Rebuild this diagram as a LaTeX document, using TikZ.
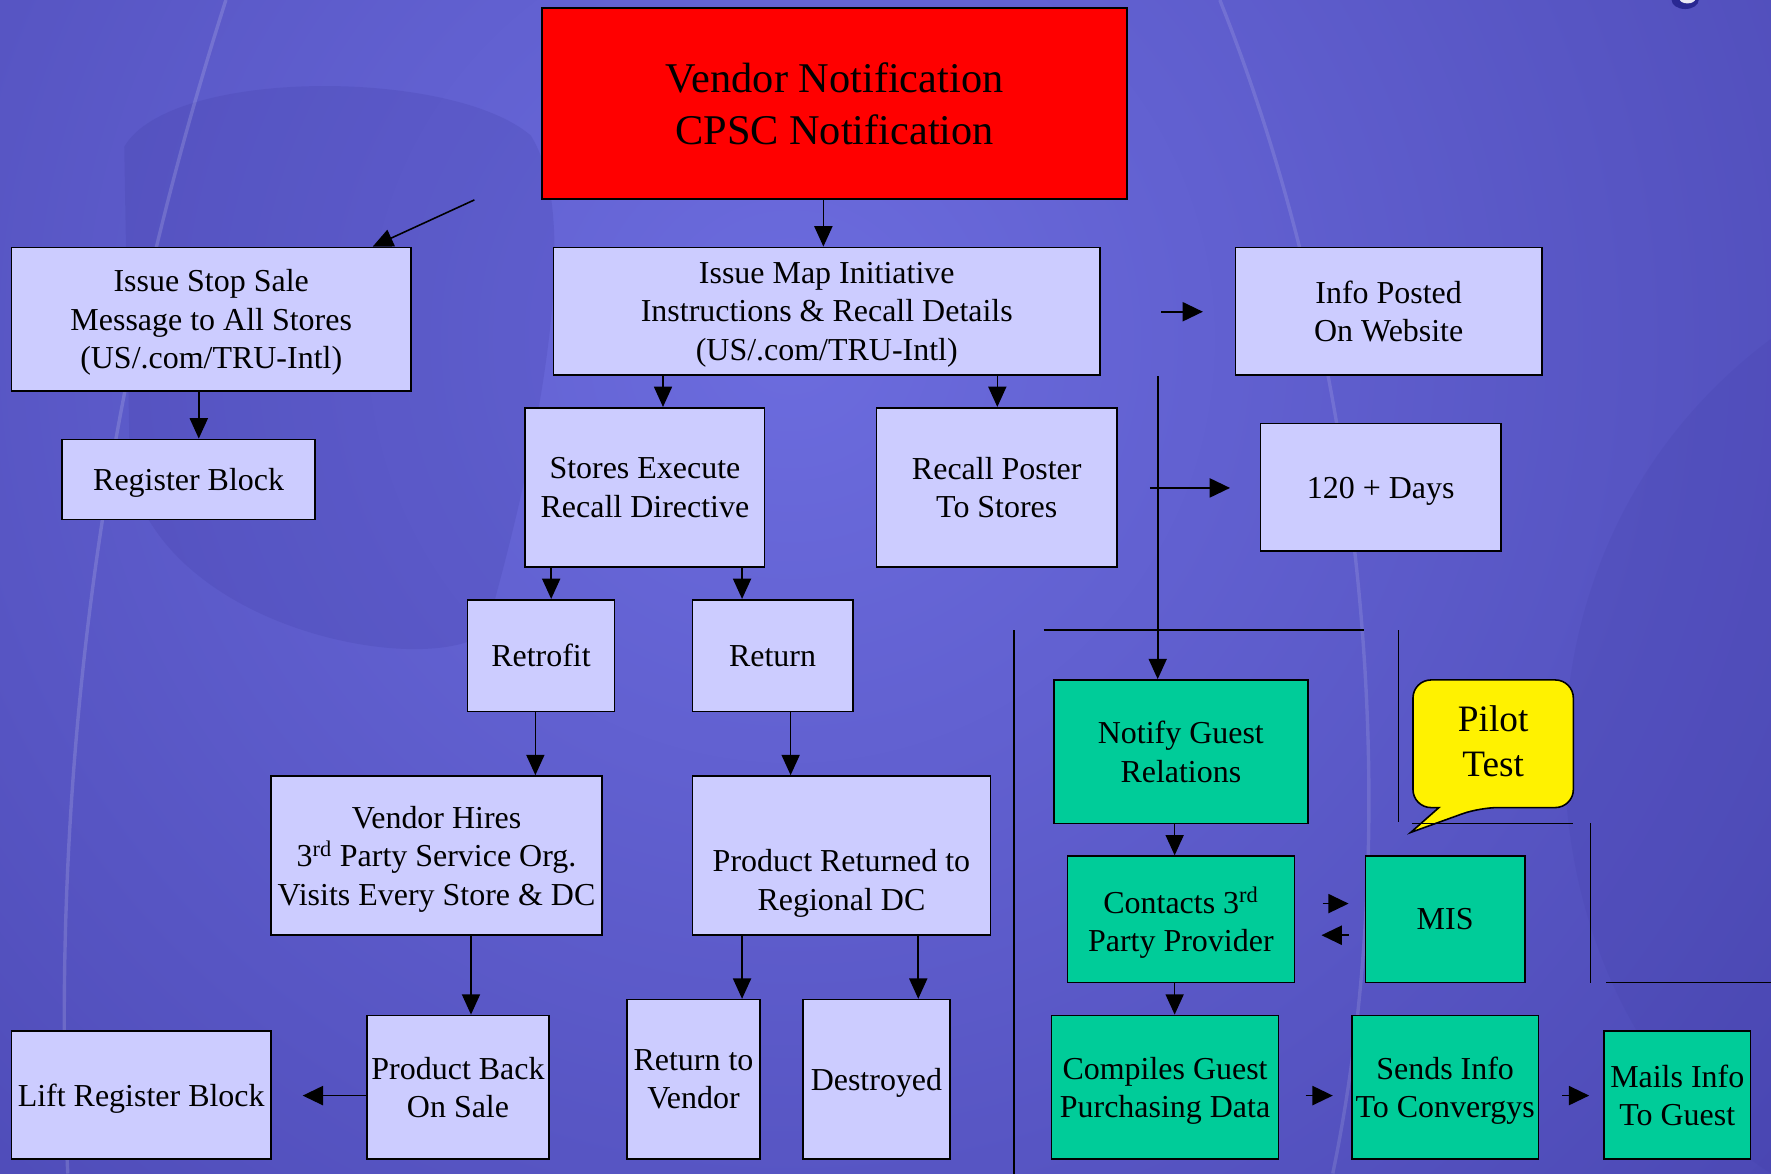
\documentclass[tikz,border=0pt]{standalone}
\usepackage{fontspec}
\setmainfont{Liberation Serif}
\usetikzlibrary{arrows.meta}
\definecolor{lav}{RGB}{204,204,255}
\definecolor{grn}{RGB}{0,204,153}
\definecolor{bgl}{RGB}{108,108,222}
\definecolor{bgd}{RGB}{66,62,168}
\definecolor{bgdark}{RGB}{60,56,160}
\newcommand\boxfont{\fontsize{28.3}{34}\selectfont}
\newcommand\bigboxfont{\fontsize{37.5}{46}\selectfont}
\newcommand\pilotfont{\fontsize{33}{40}\selectfont}
\begin{document}
\begin{tikzpicture}[x=1pt,y=-1pt,line width=1.4pt,
  box/.style={draw=black,fill=lav,align=center,inner sep=0pt,font=\boxfont,text depth=0pt},
  gbox/.style={box,fill=grn},
  bx/.style 2 args={minimum width=#1pt,minimum height=#2pt},
  arr/.style={-{Triangle[length=18pt,width=16pt]}},
  sarr/.style={-{Triangle[length=18pt,width=17pt]}},
  plain/.style={line width=1.4pt}]
\useasboundingbox (0,0) rectangle (1568,1039);
% background
\begin{scope}
\clip (0,0) rectangle (1568,1039);
\shade[inner color=bgl,outer color=bgd] (700,300) circle (1500);
\fill[bgdark,opacity=0.18] (110,130) .. controls (150,60) and (400,60) .. (470,120) .. controls (520,200) and (470,420) .. (430,560) .. controls (380,600) and (150,560) .. (115,420) -- cycle;
\fill[bgdark,opacity=0.12] (1568,300) .. controls (1300,500) and (1350,900) .. (1568,1039) -- cycle;
\draw[white,opacity=0.15,line width=3pt] (200,0) .. controls (120,250) and (40,600) .. (60,1039);
\draw[white,opacity=0.12,line width=3pt] (1080,0) .. controls (1200,300) and (1250,700) .. (1180,1039);
\fill[black!60!blue,opacity=0.5] (1492,0) ellipse (12 and 8);
\fill[white,opacity=0.9] (1494,-1) ellipse (7 and 4);
\end{scope}
% nodes
\node[draw=black,fill=red,align=center,inner sep=0pt,bx={518}{169},font=\bigboxfont] (red) at (739,91.5) {Vendor Notification\\CPSC Notification};
\node[box,bx={354}{127}] (stop) at (187,282.5) {Issue Stop Sale\\Message to All Stores\\(US/.com/TRU-Intl)};
\node[box,bx={224}{71}] (reg) at (167,424.5) {Register Block};
\node[box,bx={484}{113}] (imap) at (732,275.5) {Issue Map Initiative\\Instructions \& Recall Details\\(US/.com/TRU-Intl)};
\node[box,bx={271}{113}] (info) at (1229.5,275.5) {Info Posted\\On Website};
\node[box,bx={213}{113}] (days) at (1222.5,431.5) {120 + Days};
\node[box,bx={212}{141}] (se) at (571,431.5) {Stores Execute\\Recall Directive};
\node[box,bx={213}{141}] (rp) at (882.5,431.5) {Recall Poster\\To Stores};
\node[box,bx={130}{99}] (retro) at (479,580.5) {Retrofit};
\node[box,bx={142}{99}] (ret) at (684,580.5) {Return};
\node[box,bx={293}{141}] (vh) at (386.5,757.5) {Vendor Hires\\3\textsuperscript{rd} Party Service Org.\\Visits Every Store \& DC};
\node[box,bx={264}{141}] (prd) at (745,757.5) {};
\node[align=center,font=\boxfont,inner sep=0pt] (prdt) at (745,782) {Product Returned to\\Regional DC};
\node[box,bx={230}{113}] (lift) at (125,969.5) {Lift Register Block};
\node[box,bx={161}{127}] (pbs) at (405.5,962.5) {Product Back\\On Sale};
\node[box,bx={118}{141}] (rtv) at (614,955.5) {Return to\\Vendor};
\node[box,bx={130}{141}] (des) at (776,955.5) {Destroyed};
\node[gbox,bx={225}{127}] (ng) at (1045.5,665.5) {Notify Guest\\Relations};
\node[gbox,bx={201}{112}] (c3) at (1045.5,814) {Contacts 3\textsuperscript{rd}\\Party Provider};
\node[gbox,bx={141}{112}] (mis) at (1279.5,814) {MIS};
\node[gbox,bx={201}{127}] (cg) at (1031.5,962.5) {Compiles Guest\\Purchasing Data};
\node[gbox,bx={165}{127}] (si) at (1279.5,962.5) {Sends Info\\To Convergys};
\node[gbox,bx={130}{113}] (mi) at (1485,969.5) {Mails Info\\To Guest};
% pilot test callout
\draw[fill=yellow,rounded corners=16pt] (1251,602) -- (1393,602) -- (1393,715) -- (1310,715) [sharp corners] -- (1249,737) -- (1274,715) [rounded corners=16pt] -- (1251,715) -- cycle;
\node[align=center,font=\pilotfont,inner sep=0pt] (pilot) at (1322,656) {Pilot\\Test};
% helper coordinates
\coordinate (x729) at (729,0);
\coordinate (x330) at (330,0);
\coordinate (x176) at (176,0);
\coordinate (x587) at (587,0);
\coordinate (x883) at (883,0);
\coordinate (x488) at (488,0);
\coordinate (x657) at (657,0);
\coordinate (x474) at (474,0);
\coordinate (x700) at (700,0);
\coordinate (x417) at (417,0);
\coordinate (x813) at (813,0);
\coordinate (x1040) at (1040,0);
\coordinate (d1) at (420,177);
\coordinate (w1) at (1028,276);
\coordinate (w2) at (1065,276);
\coordinate (v1) at (1025,333);
\coordinate (h1) at (1018,432);
\coordinate (h2) at (1089,432);
\coordinate (l1) at (268,970);
\coordinate (m1) at (1171,800);
\coordinate (m2) at (1194,800);
\coordinate (m3) at (1194,828);
\coordinate (m4) at (1170,828);
\coordinate (s1) at (1156,970);
\coordinate (s2) at (1180,970);
\coordinate (s3) at (1383,970);
\coordinate (s4) at (1407,970);
% connectors
\draw[arr] (red.south -| x729) -- (imap.north -| x729);
\draw[arr] (d1) -- (stop.north -| x330);
\draw[arr] (stop.south -| x176) -- (reg.north -| x176);
\draw[arr] (imap.south -| x587) -- (se.north -| x587);
\draw[arr] (imap.south -| x883) -- (rp.north -| x883);
\draw[sarr] (w1) -- (w2);
\draw[arr] (v1) -- (ng.north -| v1);
\draw[sarr] (h1) -- (h2);
\draw[arr] (se.south -| x488) -- (retro.north -| x488);
\draw[arr] (se.south -| x657) -- (ret.north -| x657);
\draw[arr] (retro.south -| x474) -- (vh.north -| x474);
\draw[arr] (ret.south -| x700) -- (prd.north -| x700);
\draw[arr] (vh.south -| x417) -- (pbs.north -| x417);
\draw[sarr] (pbs.west |- l1) -- (l1);
\draw[arr] (prd.south -| x657) -- (rtv.north -| x657);
\draw[arr] (prd.south -| x813) -- (des.north -| x813);
\draw[arr] (ng.south -| x1040) -- (c3.north -| x1040);
\draw[arr] (c3.south -| x1040) -- (cg.north -| x1040);
\draw[sarr] (m1) -- (m2);
\draw[sarr] (m3) -- (m4);
\draw[sarr] (s1) -- (s2);
\draw[sarr] (s3) -- (s4);
% separator lines
\draw[plain] (898,558) -- (898,1039);
\draw[plain] (924,558) -- (1208,558);
\draw[plain] (1238,558) -- (1238,728);
\draw[plain] (1250,729) -- (1393,729);
\draw[plain] (1408,729) -- (1408,870);
\draw[plain] (1422,870) -- (1568,870);
\end{tikzpicture}
\end{document}
